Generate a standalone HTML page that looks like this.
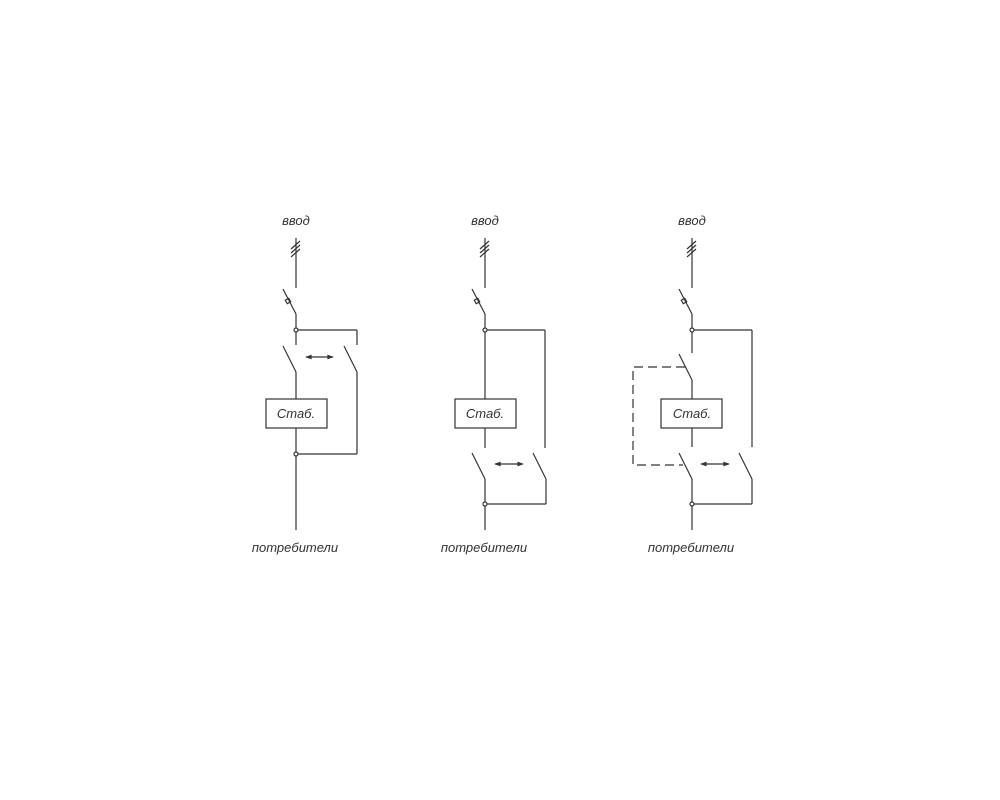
<!DOCTYPE html>
<html><head><meta charset="utf-8"><style>
html,body{margin:0;padding:0;background:#fff;}
svg{display:block;}
text{font-family:"Liberation Sans",sans-serif;font-style:italic;font-size:13px;fill:#333;}
</style></head><body>
<svg width="1000" height="800" viewBox="0 0 1000 800" xmlns="http://www.w3.org/2000/svg">
<defs>
<marker id="a" viewBox="0 0 8 6" refX="7" refY="3" markerWidth="6" markerHeight="4" orient="auto-start-reverse"><path d="M0,0 L8,3 L0,6 z" fill="#333"/></marker>
<g id="top" stroke="#333" stroke-width="1.2" fill="none">
<line x1="0" y1="238" x2="0" y2="288"/>
<line x1="-5" y1="249" x2="4" y2="241"/>
<line x1="-5" y1="253" x2="4" y2="245"/>
<line x1="-5" y1="257" x2="4" y2="249"/>
<line x1="-13" y1="289" x2="0" y2="314"/>
<rect x="-10" y="299" width="4" height="4" transform="rotate(-30 -8 301)"/>
<line x1="0" y1="314" x2="0" y2="328"/>
<circle cx="0" cy="330" r="2" fill="#fff"/>
</g>
</defs>
<g stroke="#333" stroke-width="1.2" fill="none">
<!-- diagram 1 -->
<use href="#top" x="296"/>
<line x1="298" y1="330" x2="357" y2="330"/>
<line x1="357" y1="330" x2="357" y2="345"/>
<line x1="296" y1="332" x2="296" y2="345"/>
<line x1="283" y1="346" x2="296" y2="372"/>
<line x1="344" y1="346" x2="357" y2="372"/>
<line x1="296" y1="372" x2="296" y2="399"/>
<rect x="266" y="399" width="61" height="29"/>
<line x1="296" y1="428" x2="296" y2="452"/>
<circle cx="296" cy="454" r="2" fill="#fff"/>
<line x1="296" y1="456" x2="296" y2="530"/>
<line x1="357" y1="372" x2="357" y2="454"/>
<line x1="298" y1="454" x2="357" y2="454"/>
<line x1="306" y1="357" x2="333" y2="357" marker-start="url(#a)" marker-end="url(#a)"/>
<!-- diagram 2 -->
<use href="#top" x="485"/>
<line x1="487" y1="330" x2="545" y2="330"/>
<line x1="545" y1="330" x2="545" y2="448"/>
<line x1="485" y1="332" x2="485" y2="399"/>
<rect x="455" y="399" width="61" height="29"/>
<line x1="485" y1="428" x2="485" y2="448"/>
<line x1="472" y1="453" x2="485" y2="479"/>
<line x1="533" y1="453" x2="546" y2="479"/>
<line x1="485" y1="479" x2="485" y2="502"/>
<line x1="546" y1="479" x2="546" y2="504"/>
<circle cx="485" cy="504" r="2" fill="#fff"/>
<line x1="487" y1="504" x2="546" y2="504"/>
<line x1="485" y1="506" x2="485" y2="530"/>
<line x1="495" y1="464" x2="523" y2="464" marker-start="url(#a)" marker-end="url(#a)"/>
<!-- diagram 3 -->
<use href="#top" x="692"/>
<line x1="694" y1="330" x2="752" y2="330"/>
<line x1="752" y1="330" x2="752" y2="447"/>
<line x1="692" y1="332" x2="692" y2="353"/>
<line x1="679" y1="354" x2="692" y2="380"/>
<line x1="692" y1="380" x2="692" y2="399"/>
<rect x="661" y="399" width="61" height="29"/>
<line x1="692" y1="428" x2="692" y2="447"/>
<line x1="679" y1="453" x2="692" y2="479"/>
<line x1="739" y1="453" x2="752" y2="479"/>
<line x1="692" y1="479" x2="692" y2="502"/>
<line x1="752" y1="479" x2="752" y2="504"/>
<circle cx="692" cy="504" r="2" fill="#fff"/>
<line x1="694" y1="504" x2="752" y2="504"/>
<line x1="692" y1="506" x2="692" y2="530"/>
<line x1="701" y1="464" x2="729" y2="464" marker-start="url(#a)" marker-end="url(#a)"/>
<path d="M685,367 L633,367 L633,465 L683,465" stroke-dasharray="9,5"/>
</g>
<text x="296" y="225" text-anchor="middle">ввод</text>
<text x="485" y="225" text-anchor="middle">ввод</text>
<text x="692" y="225" text-anchor="middle">ввод</text>
<text x="296" y="418" text-anchor="middle">Стаб.</text>
<text x="485" y="418" text-anchor="middle">Стаб.</text>
<text x="692" y="418" text-anchor="middle">Стаб.</text>
<text x="295" y="552" text-anchor="middle">потребители</text>
<text x="484" y="552" text-anchor="middle">потребители</text>
<text x="691" y="552" text-anchor="middle">потребители</text>
</svg>
</body></html>
